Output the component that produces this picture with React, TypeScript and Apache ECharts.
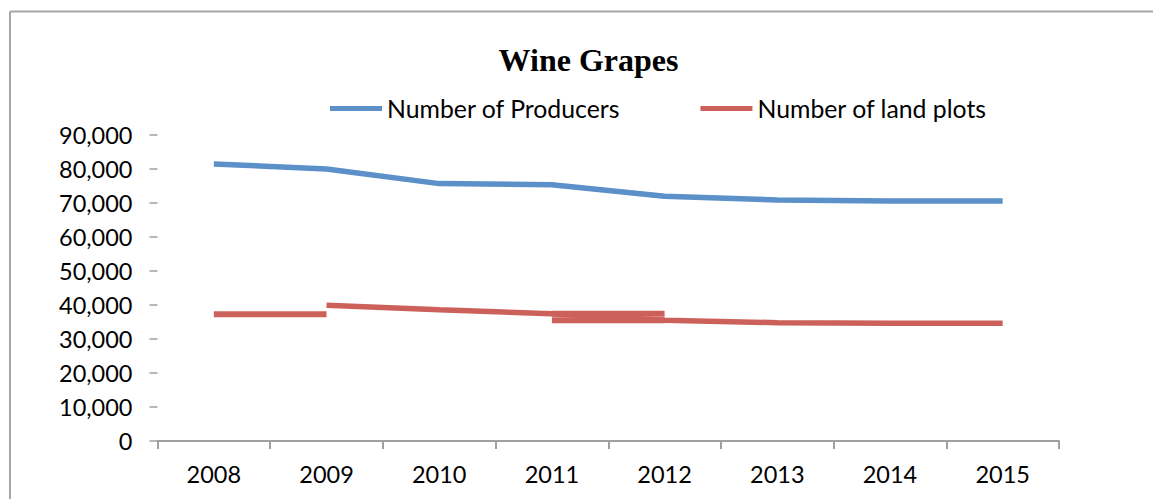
import React, { useEffect, useRef } from "react";
import * as echarts from "echarts";

const years = ["2008", "2009", "2010", "2011", "2012", "2013", "2014", "2015"];
const producers = [81500, 80000, 75700, 75400, 72000, 70900, 70600, 70600];
const landPlots = [null, 39900, 38600, 37400, 35500, 34800, 34600, 34600];
const landPlotsFirstSegment = [37300, 37300, null, null, null, null, null, null];
const landPlotsUpperOverlap = [null, null, null, 37400, 37400, null, null, null];
const landPlotsLowerOverlap = [null, null, null, 35500, 35500, null, null, null];
const yTicks = [0, 10000, 20000, 30000, 40000, 50000, 60000, 70000, 80000, 90000];

const BLUE = "#5B90C9";
const RED = "#CC605A";
const FONT = "Lato";

export default function App() {
  const ref = useRef<HTMLDivElement>(null);
  useEffect(() => {
    if (!ref.current) return;
    const chart = echarts.init(ref.current, null, { renderer: "svg" });
    const extra = (name: string, data: (number | null)[]) => ({
      name,
      type: "line",
      data,
      symbol: "none",
      connectNulls: false,
      silent: true,
      lineStyle: { color: RED, width: 6, cap: "butt" },
      itemStyle: { color: RED },
      z: 2,
    });
    chart.setOption({
      animation: false,
      backgroundColor: "#ffffff",
      title: {
        text: "Wine Grapes",
        left: 583.5,
        textAlign: "center",
        top: 39,
        textStyle: {
          fontFamily: "Liberation Serif",
          fontWeight: "bold",
          fontSize: 32,
          color: "#000",
        },
      },
      legend: {
        data: ["Number of Producers", "Number of land plots"],
        left: 325,
        top: 91,
        icon: "rect",
        itemWidth: 52,
        itemHeight: 5,
        itemGap: 80,
        textStyle: { fontFamily: FONT, fontSize: 24.8, color: "#000" },
      },
      grid: { left: 157.5, right: 94, top: 135, bottom: 58 },
      xAxis: {
        type: "category",
        data: years,
        boundaryGap: true,
        axisLine: { show: true, lineStyle: { color: "#A0A0A0", width: 2 } },
        axisTick: { show: true, length: 8, lineStyle: { color: "#A0A0A0", width: 2 } },
        axisLabel: { fontFamily: FONT, fontSize: 23.5, color: "#000", margin: 21 },
        splitLine: { show: false },
      },
      yAxis: {
        type: "value",
        min: yTicks[0],
        max: yTicks[yTicks.length - 1],
        interval: yTicks[1] - yTicks[0],
        axisLine: { show: false },
        axisTick: { show: true, length: 8, lineStyle: { color: "#A0A0A0", width: 1.5 } },
        splitLine: { show: false },
        axisLabel: {
          fontFamily: FONT,
          fontSize: 23.5,
          color: "#000",
          margin: 25,
          formatter: (v: number) => v.toLocaleString("en-US"),
        },
      },
      graphic: [
        { type: "line", shape: { x1: 10, y1: 11.5, x2: 1153, y2: 11.5 }, style: { stroke: "#A6A6A6", lineWidth: 2 } },
        { type: "line", shape: { x1: 10, y1: 11.5, x2: 10, y2: 499 }, style: { stroke: "#A6A6A6", lineWidth: 2 } },
      ],
      series: [
        {
          name: "Number of Producers",
          type: "line",
          data: producers,
          symbol: "none",
          lineStyle: { color: BLUE, width: 5.5, cap: "butt" },
          itemStyle: { color: BLUE },
          z: 3,
        },
        {
          name: "Number of land plots",
          type: "line",
          data: landPlots,
          symbol: "none",
          connectNulls: false,
          lineStyle: { color: RED, width: 5.5, cap: "butt" },
          itemStyle: { color: RED },
          z: 2,
        },
        extra("lp-a", landPlotsFirstSegment),
        extra("lp-b", landPlotsUpperOverlap),
        extra("lp-c", landPlotsLowerOverlap),
      ],
    });
    return () => chart.dispose();
  }, []);
  return (
    <div
      ref={ref}
      style={{ position: "fixed", left: 0, top: 0, width: 1153, height: 499, background: "#fff" }}
    />
  );
}
